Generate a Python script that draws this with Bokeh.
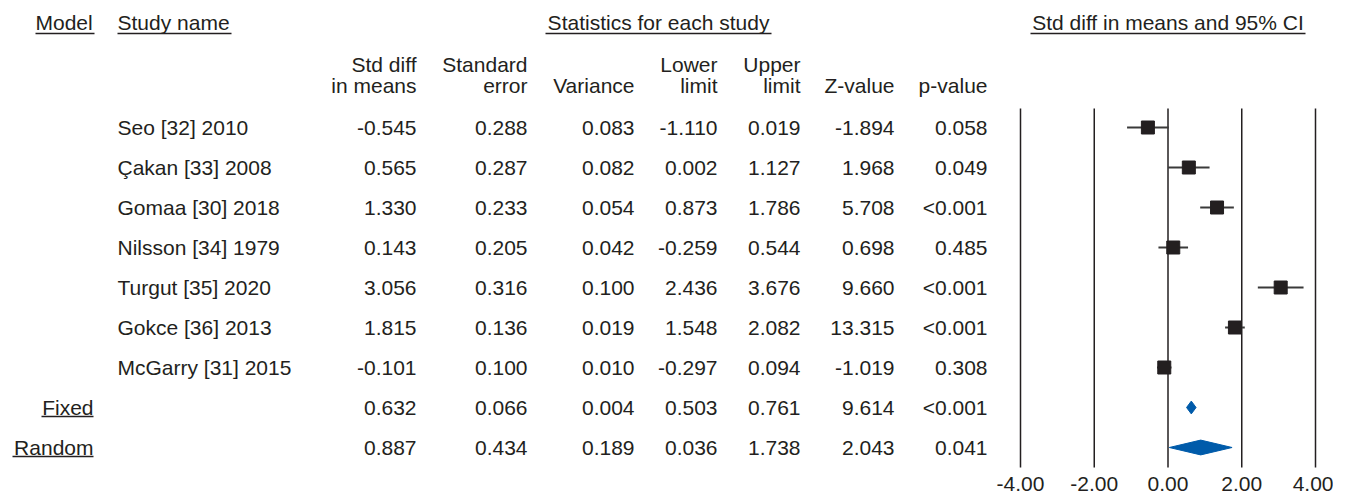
from bokeh.plotting import figure
from bokeh.models import Range1d, FixedTicker, PrintfTickFormatter, ColumnDataSource
from bokeh.embed import file_html
from bokeh.resources import INLINE
from bokeh.core.properties import value

# ---------------- data ----------------
studies = ["Seo [32] 2010", "Çakan [33] 2008", "Gomaa [30] 2018", "Nilsson [34] 1979",
           "Turgut [35] 2020", "Gokce [36] 2013", "McGarry [31] 2015"]
smd = [-0.545, 0.565, 1.330, 0.143, 3.056, 1.815, -0.101]
se = [0.288, 0.287, 0.233, 0.205, 0.316, 0.136, 0.100]
variance = [0.083, 0.082, 0.054, 0.042, 0.100, 0.019, 0.010]
lower = [-1.110, 0.002, 0.873, -0.259, 2.436, 1.548, -0.297]
upper = [0.019, 1.127, 1.786, 0.544, 3.676, 2.082, 0.094]
zval = [-1.894, 1.968, 5.708, 0.698, 9.660, 13.315, -1.019]
pval = ["0.058", "0.049", "<0.001", "0.485", "<0.001", "<0.001", "0.308"]

models = ["Fixed", "Random"]
m_smd = [0.632, 0.887]
m_se = [0.066, 0.434]
m_var = [0.004, 0.189]
m_lower = [0.503, 0.036]
m_upper = [0.761, 1.738]
m_z = [9.614, 2.043]
m_p = ["<0.001", "0.041"]

ticks = [-4, -2, 0, 2, 4]

# ---------------- layout helpers ----------------
W, H = 1333, 496
OFF = 0               # page offset of the canvas
PX0 = 1167.5          # canvas x of value 0
PPU = 36.875          # pixels per unit
BORDER_B = 22
ROW0 = 127            # canvas y of first row
ROWH = 40

def xd(px):           # page pixel -> data x
    return (px - OFF - PX0) / PPU

def yd(py):           # page pixel -> data y (rows)
    return (py - OFF - ROW0) / ROWH

frame_h = H - BORDER_B
p = figure(width=W, height=H, output_backend="svg", toolbar_location=None,
           x_range=Range1d(-PX0 / PPU, (W - PX0) / PPU),
           y_range=Range1d((frame_h - ROW0) / ROWH, -ROW0 / ROWH),
           y_axis_location=None, min_border_left=0, min_border_right=0,
           min_border_top=0, min_border_bottom=BORDER_B)
p.outline_line_color = None
p.xgrid.visible = False
p.ygrid.visible = False
p.background_fill_color = "white"

FONT = value("Liberation Sans")
FS = "21px"
TC = "#231F20"

ax = p.xaxis[0]
ax.ticker = FixedTicker(ticks=ticks)
ax.formatter = PrintfTickFormatter(format="%.2f")
ax.axis_line_color = None
ax.major_tick_line_color = None
ax.minor_tick_line_color = None
ax.major_tick_out = 0
ax.major_label_standoff = 2
ax.major_label_text_font = "Liberation Sans"
ax.major_label_text_font_size = FS
ax.major_label_text_color = TC

def txt(x, y, s, align="left"):
    p.text(x=[x], y=[y], text=[s], text_font=FONT, text_font_size=FS,
           text_color=TC, text_align=align, text_baseline="middle")

def uline(x0, x1, y):
    p.segment(x0=[xd(x0)], y0=[yd(y)], x1=[xd(x1)], y1=[yd(y)],
              line_color=TC, line_width=1.3)

# header row 1
txt(xd(35), yd(22), "Model")
uline(35, 94, 33)
txt(xd(117), yd(22), "Study name")
uline(117, 231, 33)
txt(xd(658), yd(22), "Statistics for each study", "center")
uline(545, 771, 33)
txt(0, yd(22), "Std diff in means and 95% CI", "center")
uline(1030, 1305, 33)

# column headers
col_right = [416, 527, 634, 717, 800, 894, 987]
hdr1 = ["Std diff", "Standard", "", "Lower", "Upper", "", ""]
hdr2 = ["in means", "error", "Variance", "limit", "limit", "Z-value", "p-value"]
for cx, a, b in zip(col_right, hdr1, hdr2):
    if a:
        txt(xd(cx), yd(64), a, "right")
    txt(xd(cx), yd(85), b, "right")

# table rows
n = len(studies)
rows = list(range(n))
cols_px = [xd(c) for c in col_right]

def fmt(v):
    return f"{v:.3f}"

def table_cols(ys, a, b, c, d, e, f, g):
    for cx, vals in zip(cols_px, [a, b, c, d, e, f]):
        p.text(x=[cx] * len(ys), y=ys, text=[fmt(v) for v in vals],
               text_font=FONT, text_font_size=FS, text_color=TC,
               text_align="right", text_baseline="middle")
    p.text(x=[cols_px[6]] * len(ys), y=ys, text=g,
           text_font=FONT, text_font_size=FS, text_color=TC,
           text_align="right", text_baseline="middle")

p.text(x=[xd(117)] * n, y=rows, text=studies, text_font=FONT, text_font_size=FS,
       text_color=TC, text_align="left", text_baseline="middle")
table_cols(rows, smd, se, variance, lower, upper, zval, pval)

mrows = [n, n + 1]
p.text(x=[xd(93)] * 2, y=mrows, text=models, text_font=FONT, text_font_size=FS,
       text_color=TC, text_align="right", text_baseline="middle")
uline(41, 93, 416)
uline(12, 93, 456)
table_cols(mrows, m_smd, m_se, m_var, m_lower, m_upper, m_z, m_p)

# forest plot
p.segment(x0=ticks, y0=[yd(108)] * len(ticks), x1=ticks, y1=[yd(467)] * len(ticks),
          line_color=TC, line_width=1.5)
src = ColumnDataSource(dict(y=rows, smd=smd, lo=lower, hi=upper))
p.segment(x0="lo", y0="y", x1="hi", y1="y", source=src, line_color="#3a3a3a", line_width=2)
p.scatter(x="smd", y="y", source=src, marker="square", size=13,
          fill_color=TC, line_color=TC)

BLUE = "#005BAA"
halfh = [0.16, 0.185]
xs = [[lo, m, hi, m] for lo, m, hi in zip(m_lower, m_smd, m_upper)]
ys = [[r, r - h, r, r + h] for r, h in zip(mrows, halfh)]
p.patches(xs=xs, ys=ys, fill_color=BLUE, line_color=BLUE, line_width=1)

open("out.html", "w").write(file_html(p, INLINE))
